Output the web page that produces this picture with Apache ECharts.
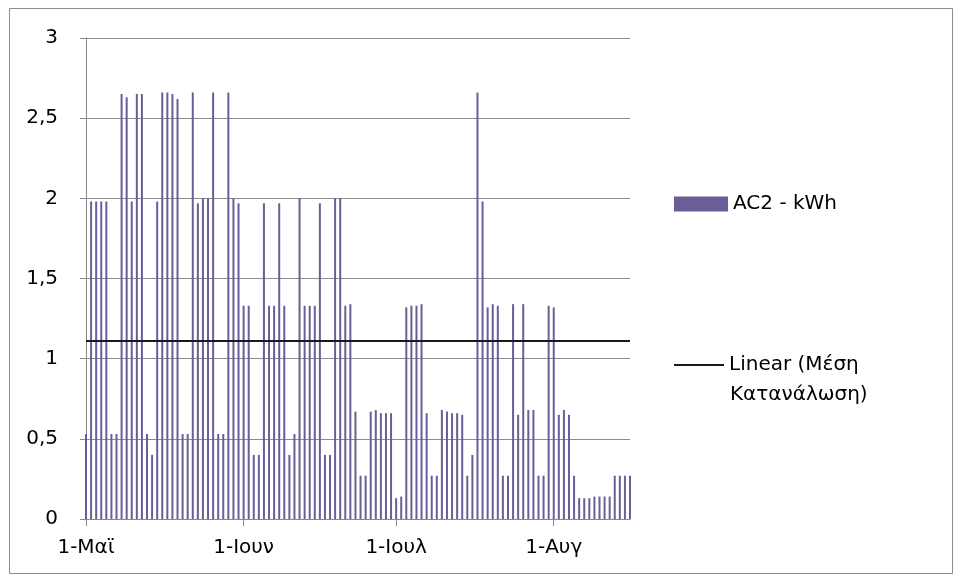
<!DOCTYPE html>
<html><head><meta charset="utf-8">
<script src="https://cdn.jsdelivr.net/npm/echarts@6/dist/echarts.min.js"></script>
<style>html,body{margin:0;padding:0;background:#fff}#c{width:961px;height:581px}</style>
</head><body><div id="c"></div>
<script>
// Daily consumption, 1 May .. 16 Aug
const startDate = [2011, 4, 1];
const values = [
  0.53, 1.98, 1.98, 1.98, 1.98, 0.53, 0.53, 2.65, 2.63, 1.98,
  2.65, 2.65, 0.53, 0.40, 1.98, 2.66, 2.66, 2.65, 2.62, 0.53,
  0.53, 2.66, 1.97, 2.00, 2.00, 2.66, 0.53, 0.53, 2.66, 2.00,
  1.97, 1.33, 1.33, 0.40, 0.40, 1.97, 1.33, 1.33, 1.97, 1.33,
  0.40, 0.53, 2.00, 1.33, 1.33, 1.33, 1.97, 0.40, 0.40, 2.00,
  2.00, 1.33, 1.34, 0.67, 0.27, 0.27, 0.67, 0.68, 0.66, 0.66,
  0.66, 0.13, 0.14, 1.32, 1.33, 1.33, 1.34, 0.66, 0.27, 0.27,
  0.68, 0.67, 0.66, 0.66, 0.65, 0.27, 0.40, 2.66, 1.98, 1.32,
  1.34, 1.33, 0.27, 0.27, 1.34, 0.65, 1.34, 0.68, 0.68, 0.27,
  0.27, 1.33, 1.32, 0.65, 0.68, 0.65, 0.27, 0.13, 0.13, 0.13,
  0.14, 0.14, 0.14, 0.14, 0.27, 0.27, 0.27, 0.27
];
const monthTickDates = ['2011-05-01', '2011-06-01', '2011-07-01', '2011-08-01'];
const monthTickLabels = ['1-Μαϊ', '1-Ιουν', '1-Ιουλ', '1-Αυγ'];
const yTickLabels = ['0', '0,5', '1', '1,5', '2', '2,5', '3'];
const trendValue = 1.11;
const barName = 'AC2 - kWh';
const trendName = 'Linear (Μέση Κατανάλωση)';
const trendLine1 = 'Linear (Μέση';
const trendLine2 = 'Κατανάλωση)';

const categories = [];
const t0 = Date.UTC(startDate[0], startDate[1], startDate[2]);
for (let i = 0; i < values.length; i++) {
  categories.push(new Date(t0 + i * 86400000).toISOString().slice(0, 10));
}

const FONT = 'DejaVu Sans';
const chart = echarts.init(document.getElementById('c'));
const isMonthStart = (i, v) => monthTickDates.indexOf(v) >= 0;
chart.setOption({
  backgroundColor: '#fff',
  animation: false,
  grid: { left: 86, top: 38, width: 544, height: 481, containLabel: false },
  xAxis: {
    type: 'category', data: categories, boundaryGap: false,
    axisLine: { lineStyle: { color: '#888', width: 1 } },
    axisTick: { interval: isMonthStart, length: 7, lineStyle: { color: '#888' } },
    axisLabel: {
      interval: isMonthStart, margin: 19,
      formatter: v => monthTickLabels[monthTickDates.indexOf(v)],
      color: '#000', fontSize: 20, fontFamily: FONT
    },
    splitLine: { show: false }
  },
  yAxis: {
    type: 'value', min: 0, max: 3, interval: 0.5,
    axisLine: { show: true, lineStyle: { color: '#888' } },
    axisTick: { show: true, length: 6, lineStyle: { color: '#888' } },
    splitLine: { show: true, lineStyle: { color: '#8c8c8c', width: 1 } },
    axisLabel: {
      formatter: v => yTickLabels[Math.round(v * 2)], margin: 28,
      color: '#000', fontSize: 20, fontFamily: FONT
    }
  },
  legend: [
    {
      data: [{ name: barName, icon: 'rect' }], left: 669, top: 189, orient: 'vertical',
      itemWidth: 54, itemHeight: 15, selectedMode: false,
      textStyle: { fontSize: 20, fontFamily: FONT, color: '#000' }
    },
    {
      data: [{ name: trendName, icon: 'rect' }], left: 669, top: 350, orient: 'vertical',
      itemWidth: 50, itemHeight: 2, selectedMode: false,
      formatter: () => trendLine1,
      textStyle: { fontSize: 20, fontFamily: FONT, color: '#000' }
    }
  ],
  graphic: [
    { type: 'rect', shape: { x: 9.5, y: 8.5, width: 943, height: 565 }, style: { fill: 'none', stroke: '#8c8c8c', lineWidth: 1 }, silent: true, z: -1 },
    { type: 'text', left: 730, top: 385, style: { text: trendLine2, font: '20px "DejaVu Sans"', fill: '#000' } }
  ],
  series: [
    {
      name: barName, type: 'bar', data: values, barWidth: 2,
      itemStyle: { color: '#6b5e98' }
    },
    {
      name: trendName, type: 'line', symbol: 'none', z: 5,
      data: [[categories[0], trendValue], [categories[categories.length - 1], trendValue]],
      lineStyle: { color: '#1a1a1a', width: 2 }, itemStyle: { color: '#1a1a1a' }
    }
  ]
});
</script></body></html>
